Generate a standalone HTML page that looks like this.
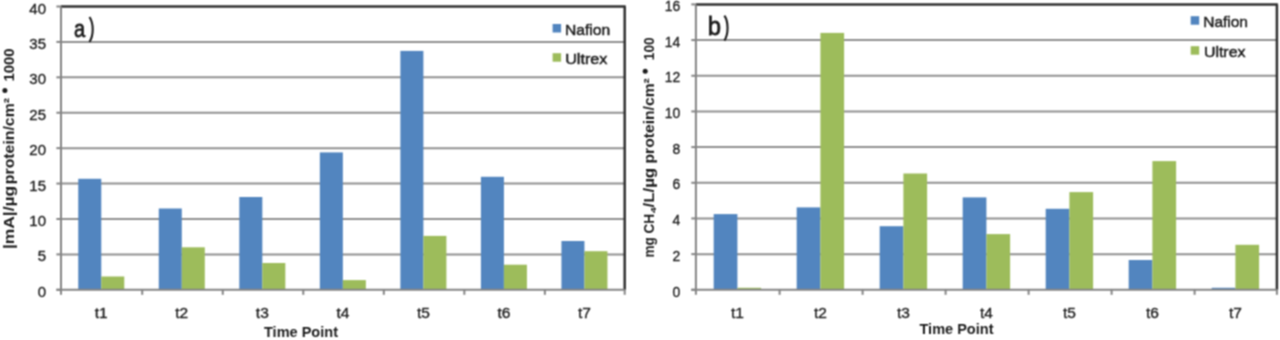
<!DOCTYPE html>
<html><head><meta charset="utf-8"><style>
html,body{margin:0;padding:0;background:#fff;}
body{width:1280px;height:340px;overflow:hidden;}
svg{display:block;}

text{font-family:"Liberation Sans",sans-serif;fill:#1c1c1c;}
.tk{font-size:15px;stroke:#1c1c1c;stroke-width:0.35px;}
.tx{font-size:15.5px;stroke:#1c1c1c;stroke-width:0.35px;}
.lg{font-size:14px;stroke:#1c1c1c;stroke-width:0.45px;}
.big{stroke:#1c1c1c;stroke-width:0.8px;}
.tp{font-size:15.5px;font-weight:bold;}
.yt{font-size:15px;font-weight:bold;}
</style></head><body>
<svg width="1280" height="340" viewBox="0 0 1280 340">
<defs><filter id="bl" filterUnits="userSpaceOnUse" x="0" y="0" width="1280" height="340" color-interpolation-filters="sRGB"><feConvolveMatrix order="3" kernelMatrix="1 2 1 2 4 2 1 2 1" divisor="16" edgeMode="duplicate"/></filter></defs>
<g filter="url(#bl)">
<rect width="1280" height="340" fill="#fff"/>
<line x1="61.00" y1="41.91" x2="624.70" y2="41.91" stroke="#909090" stroke-width="2"/>
<line x1="61.00" y1="77.33" x2="624.70" y2="77.33" stroke="#909090" stroke-width="2"/>
<line x1="61.00" y1="112.74" x2="624.70" y2="112.74" stroke="#909090" stroke-width="2"/>
<line x1="61.00" y1="148.15" x2="624.70" y2="148.15" stroke="#909090" stroke-width="2"/>
<line x1="61.00" y1="183.56" x2="624.70" y2="183.56" stroke="#909090" stroke-width="2"/>
<line x1="61.00" y1="218.98" x2="624.70" y2="218.98" stroke="#909090" stroke-width="2"/>
<line x1="61.00" y1="254.39" x2="624.70" y2="254.39" stroke="#909090" stroke-width="2"/>
<rect x="78.26" y="178.80" width="23.01" height="111.00" fill="#5285BF"/>
<rect x="101.26" y="276.50" width="23.01" height="13.30" fill="#9DBC5B"/>
<rect x="158.78" y="208.50" width="23.01" height="81.30" fill="#5285BF"/>
<rect x="181.79" y="247.30" width="23.01" height="42.50" fill="#9DBC5B"/>
<rect x="239.31" y="197.00" width="23.01" height="92.80" fill="#5285BF"/>
<rect x="262.32" y="263.00" width="23.01" height="26.80" fill="#9DBC5B"/>
<rect x="319.84" y="152.40" width="23.01" height="137.40" fill="#5285BF"/>
<rect x="342.85" y="280.10" width="23.01" height="9.70" fill="#9DBC5B"/>
<rect x="400.37" y="50.90" width="23.01" height="238.90" fill="#5285BF"/>
<rect x="423.38" y="235.90" width="23.01" height="53.90" fill="#9DBC5B"/>
<rect x="480.90" y="176.80" width="23.01" height="113.00" fill="#5285BF"/>
<rect x="503.91" y="264.70" width="23.01" height="25.10" fill="#9DBC5B"/>
<rect x="561.43" y="241.00" width="23.01" height="48.80" fill="#5285BF"/>
<rect x="584.44" y="251.20" width="23.01" height="38.60" fill="#9DBC5B"/>
<line x1="61.00" y1="6.50" x2="625.70" y2="6.50" stroke="#303030" stroke-width="2.5"/>
<line x1="624.70" y1="6.50" x2="624.70" y2="289.80" stroke="#303030" stroke-width="2.5"/>
<line x1="61.00" y1="6.50" x2="61.00" y2="294.80" stroke="#848484" stroke-width="2"/>
<line x1="56.40" y1="289.80" x2="624.70" y2="289.80" stroke="#848484" stroke-width="2"/>
<line x1="56.40" y1="6.50" x2="61.00" y2="6.50" stroke="#848484" stroke-width="2"/>
<line x1="56.40" y1="41.91" x2="61.00" y2="41.91" stroke="#848484" stroke-width="2"/>
<line x1="56.40" y1="77.33" x2="61.00" y2="77.33" stroke="#848484" stroke-width="2"/>
<line x1="56.40" y1="112.74" x2="61.00" y2="112.74" stroke="#848484" stroke-width="2"/>
<line x1="56.40" y1="148.15" x2="61.00" y2="148.15" stroke="#848484" stroke-width="2"/>
<line x1="56.40" y1="183.56" x2="61.00" y2="183.56" stroke="#848484" stroke-width="2"/>
<line x1="56.40" y1="218.98" x2="61.00" y2="218.98" stroke="#848484" stroke-width="2"/>
<line x1="56.40" y1="254.39" x2="61.00" y2="254.39" stroke="#848484" stroke-width="2"/>
<line x1="56.40" y1="289.80" x2="61.00" y2="289.80" stroke="#848484" stroke-width="2"/>
<line x1="142.23" y1="289.80" x2="142.23" y2="294.80" stroke="#848484" stroke-width="2"/>
<line x1="222.76" y1="289.80" x2="222.76" y2="294.80" stroke="#848484" stroke-width="2"/>
<line x1="303.29" y1="289.80" x2="303.29" y2="294.80" stroke="#848484" stroke-width="2"/>
<line x1="383.81" y1="289.80" x2="383.81" y2="294.80" stroke="#848484" stroke-width="2"/>
<line x1="464.34" y1="289.80" x2="464.34" y2="294.80" stroke="#848484" stroke-width="2"/>
<line x1="544.87" y1="289.80" x2="544.87" y2="294.80" stroke="#848484" stroke-width="2"/>
<line x1="624.70" y1="289.80" x2="624.70" y2="294.80" stroke="#848484" stroke-width="2"/>
<text transform="translate(46.0,13.50) scale(1,1)" text-anchor="end" class="tk">40</text>
<text transform="translate(46.0,48.91) scale(1,1)" text-anchor="end" class="tk">35</text>
<text transform="translate(46.0,84.33) scale(1,1)" text-anchor="end" class="tk">30</text>
<text transform="translate(46.0,119.74) scale(1,1)" text-anchor="end" class="tk">25</text>
<text transform="translate(46.0,155.15) scale(1,1)" text-anchor="end" class="tk">20</text>
<text transform="translate(46.0,190.56) scale(1,1)" text-anchor="end" class="tk">15</text>
<text transform="translate(46.0,225.98) scale(1,1)" text-anchor="end" class="tk">10</text>
<text transform="translate(46.0,261.39) scale(1,1)" text-anchor="end" class="tk">5</text>
<text transform="translate(46.0,296.80) scale(1,1)" text-anchor="end" class="tk">0</text>
<text x="101.26" y="317.8" text-anchor="middle" class="tx">t1</text>
<text x="181.79" y="317.8" text-anchor="middle" class="tx">t2</text>
<text x="262.32" y="317.8" text-anchor="middle" class="tx">t3</text>
<text x="342.85" y="317.8" text-anchor="middle" class="tx">t4</text>
<text x="423.38" y="317.8" text-anchor="middle" class="tx">t5</text>
<text x="503.91" y="317.8" text-anchor="middle" class="tx">t6</text>
<text x="584.44" y="317.8" text-anchor="middle" class="tx">t7</text>
<line x1="695.90" y1="40.08" x2="1276.90" y2="40.08" stroke="#909090" stroke-width="2"/>
<line x1="695.90" y1="75.75" x2="1276.90" y2="75.75" stroke="#909090" stroke-width="2"/>
<line x1="695.90" y1="111.43" x2="1276.90" y2="111.43" stroke="#909090" stroke-width="2"/>
<line x1="695.90" y1="147.10" x2="1276.90" y2="147.10" stroke="#909090" stroke-width="2"/>
<line x1="695.90" y1="182.78" x2="1276.90" y2="182.78" stroke="#909090" stroke-width="2"/>
<line x1="695.90" y1="218.45" x2="1276.90" y2="218.45" stroke="#909090" stroke-width="2"/>
<line x1="695.90" y1="254.13" x2="1276.90" y2="254.13" stroke="#909090" stroke-width="2"/>
<rect x="713.69" y="214.10" width="23.71" height="75.70" fill="#5285BF"/>
<rect x="737.40" y="287.80" width="23.71" height="2.00" fill="#9DBC5B"/>
<rect x="796.69" y="207.40" width="23.71" height="82.40" fill="#5285BF"/>
<rect x="820.40" y="32.90" width="23.71" height="256.90" fill="#9DBC5B"/>
<rect x="879.69" y="226.20" width="23.71" height="63.60" fill="#5285BF"/>
<rect x="903.40" y="173.50" width="23.71" height="116.30" fill="#9DBC5B"/>
<rect x="962.69" y="197.40" width="23.71" height="92.40" fill="#5285BF"/>
<rect x="986.40" y="234.10" width="23.71" height="55.70" fill="#9DBC5B"/>
<rect x="1045.69" y="208.80" width="23.71" height="81.00" fill="#5285BF"/>
<rect x="1069.40" y="192.10" width="23.71" height="97.70" fill="#9DBC5B"/>
<rect x="1128.69" y="260.00" width="23.71" height="29.80" fill="#5285BF"/>
<rect x="1152.40" y="161.10" width="23.71" height="128.70" fill="#9DBC5B"/>
<rect x="1211.69" y="287.80" width="23.71" height="2.00" fill="#5285BF"/>
<rect x="1235.40" y="244.80" width="23.71" height="45.00" fill="#9DBC5B"/>
<line x1="695.90" y1="4.40" x2="1277.90" y2="4.40" stroke="#303030" stroke-width="2.5"/>
<line x1="1276.90" y1="4.40" x2="1276.90" y2="289.80" stroke="#303030" stroke-width="2.5"/>
<line x1="695.90" y1="4.40" x2="695.90" y2="294.80" stroke="#848484" stroke-width="2"/>
<line x1="691.30" y1="289.80" x2="1276.90" y2="289.80" stroke="#848484" stroke-width="2"/>
<line x1="691.30" y1="4.40" x2="695.90" y2="4.40" stroke="#848484" stroke-width="2"/>
<line x1="691.30" y1="40.08" x2="695.90" y2="40.08" stroke="#848484" stroke-width="2"/>
<line x1="691.30" y1="75.75" x2="695.90" y2="75.75" stroke="#848484" stroke-width="2"/>
<line x1="691.30" y1="111.43" x2="695.90" y2="111.43" stroke="#848484" stroke-width="2"/>
<line x1="691.30" y1="147.10" x2="695.90" y2="147.10" stroke="#848484" stroke-width="2"/>
<line x1="691.30" y1="182.78" x2="695.90" y2="182.78" stroke="#848484" stroke-width="2"/>
<line x1="691.30" y1="218.45" x2="695.90" y2="218.45" stroke="#848484" stroke-width="2"/>
<line x1="691.30" y1="254.13" x2="695.90" y2="254.13" stroke="#848484" stroke-width="2"/>
<line x1="691.30" y1="289.80" x2="695.90" y2="289.80" stroke="#848484" stroke-width="2"/>
<line x1="779.60" y1="289.80" x2="779.60" y2="294.80" stroke="#848484" stroke-width="2"/>
<line x1="862.60" y1="289.80" x2="862.60" y2="294.80" stroke="#848484" stroke-width="2"/>
<line x1="945.60" y1="289.80" x2="945.60" y2="294.80" stroke="#848484" stroke-width="2"/>
<line x1="1028.60" y1="289.80" x2="1028.60" y2="294.80" stroke="#848484" stroke-width="2"/>
<line x1="1111.60" y1="289.80" x2="1111.60" y2="294.80" stroke="#848484" stroke-width="2"/>
<line x1="1194.60" y1="289.80" x2="1194.60" y2="294.80" stroke="#848484" stroke-width="2"/>
<line x1="1276.90" y1="289.80" x2="1276.90" y2="294.80" stroke="#848484" stroke-width="2"/>
<text transform="translate(680.3,11.10) scale(0.93,1)" text-anchor="end" class="tk">16</text>
<text transform="translate(680.3,46.78) scale(0.93,1)" text-anchor="end" class="tk">14</text>
<text transform="translate(680.3,82.45) scale(0.93,1)" text-anchor="end" class="tk">12</text>
<text transform="translate(680.3,118.13) scale(0.93,1)" text-anchor="end" class="tk">10</text>
<text transform="translate(680.3,153.80) scale(0.93,1)" text-anchor="end" class="tk">8</text>
<text transform="translate(680.3,189.48) scale(0.93,1)" text-anchor="end" class="tk">6</text>
<text transform="translate(680.3,225.15) scale(0.93,1)" text-anchor="end" class="tk">4</text>
<text transform="translate(680.3,260.82) scale(0.93,1)" text-anchor="end" class="tk">2</text>
<text transform="translate(680.3,296.50) scale(0.93,1)" text-anchor="end" class="tk">0</text>
<text x="737.40" y="317.8" text-anchor="middle" class="tx">t1</text>
<text x="820.40" y="317.8" text-anchor="middle" class="tx">t2</text>
<text x="903.40" y="317.8" text-anchor="middle" class="tx">t3</text>
<text x="986.40" y="317.8" text-anchor="middle" class="tx">t4</text>
<text x="1069.40" y="317.8" text-anchor="middle" class="tx">t5</text>
<text x="1152.40" y="317.8" text-anchor="middle" class="tx">t6</text>
<text x="1235.40" y="317.8" text-anchor="middle" class="tx">t7</text>
<rect x="552.6" y="24.0" width="8.5" height="8.5" fill="#5285BF"/>
<rect x="552.6" y="53.2" width="8.5" height="8.5" fill="#9DBC5B"/>
<text x="564.9" y="35.0" class="lg" textLength="45.2" lengthAdjust="spacingAndGlyphs">Nafion</text>
<text x="565.2" y="64.3" class="lg" textLength="42.2" lengthAdjust="spacingAndGlyphs">Ultrex</text>
<rect x="1190.7" y="16.2" width="8.5" height="8.5" fill="#5285BF"/>
<rect x="1190.7" y="46.2" width="8.5" height="8.5" fill="#9DBC5B"/>
<text x="1203.2" y="27.4" class="lg" textLength="44.8" lengthAdjust="spacingAndGlyphs">Nafion</text>
<text x="1203.9" y="57.1" class="lg" textLength="41.6" lengthAdjust="spacingAndGlyphs">Ultrex</text>
<text transform="translate(74.06,36.60) scale(0.82,1)" class="big" font-size="24.5">a</text>
<path d="M89.5 17.0 C93.8 23.5 93.8 35.5 89.4 42.0" fill="none" stroke="#1c1c1c" stroke-width="2.1"/>
<text transform="translate(707.85,35.00) scale(0.9,1)" class="big" font-size="26.5">b</text>
<path d="M724.4 15.7 C728.6 21.8 728.6 34.2 724.4 40.6" fill="none" stroke="#1c1c1c" stroke-width="2.1"/>
<text x="264" y="337.3" class="tp" textLength="74" lengthAdjust="spacingAndGlyphs">Time Point</text>
<text x="919.5" y="334.4" class="tp" textLength="74" lengthAdjust="spacingAndGlyphs">Time Point</text>
<text transform="translate(14.3,247.80) rotate(-90) scale(1.162,1)" x="-1.14" class="yt">|mA|/µg</text>
<text transform="translate(14.3,183.10) rotate(-90) scale(1.055,1)" x="-0.99" class="yt">protein/cm²</text>
<circle cx="4.9" cy="90.6" r="2.5" fill="#1c1c1c"/>
<text transform="translate(14.3,80.60) rotate(-90) scale(0.994,1)" x="-0.94" class="yt">1000</text>
<text transform="translate(654.4,256.70) rotate(-90) scale(0.906,1)" x="-0.99" class="yt">mg CH</text>
<text transform="translate(655.8,213.63) rotate(-90)" class="yt" font-size="14">₄</text>
<text transform="translate(654.4,207.40) rotate(-90) scale(1.127,1)" x="-0.15" class="yt">/L/µg</text>
<text transform="translate(654.4,162.50) rotate(-90) scale(1.046,1)" x="-0.99" class="yt">protein/cm²</text>
<circle cx="645.2" cy="71.2" r="2.5" fill="#1c1c1c"/>
<text transform="translate(654.4,59.30) rotate(-90) scale(0.908,1)" x="-0.94" class="yt">100</text>
</g>
</svg>
</body></html>
